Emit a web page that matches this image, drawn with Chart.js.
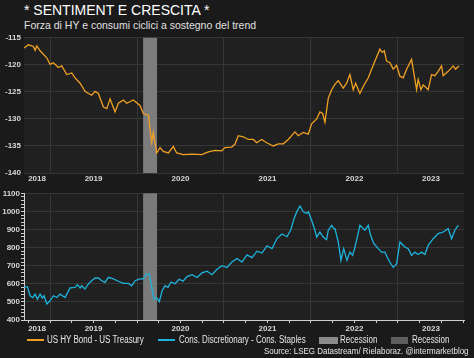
<!DOCTYPE html>
<html>
<head>
<meta charset="utf-8">
<script src="https://cdn.jsdelivr.net/npm/chart.js@4.4.1/dist/chart.umd.min.js"></script>
<style>
  html, body { margin: 0; padding: 0; background: #1a1a1a; }
  body { width: 474px; height: 358px; position: relative; overflow: hidden; font-family: "Liberation Sans", Arial, sans-serif; color: #e6e6e6; }
  .title { position: absolute; left: 24px; top: 2px; font-size: 14px; color: #fff; line-height: 16px; }
  .subtitle { position: absolute; left: 24px; top: 19px; font-size: 10.5px; color: #e0e0e0; }
  canvas { position: absolute; left: 0; }
  #topChart { top: 30px; }
  #bottomChart { top: 185px; }
  .legend { position: absolute; top: 334px; font-size: 10px; color: #e6e6e6; white-space: nowrap; transform: scaleX(0.8); transform-origin: left center; }
  .swatch { position: absolute; }
  .source { position: absolute; right: 5px; top: 345px; font-size: 9.5px; color: #e6e6e6; white-space: nowrap; transform: scaleX(0.84); transform-origin: right center; }
</style>
</head>
<body>
<div class="title">* SENTIMENT E CRESCITA *</div>
<div class="subtitle">Forza di HY e consumi ciclici a sostegno del trend</div>
<canvas id="topChart" width="474" height="155"></canvas>
<canvas id="bottomChart" width="474" height="150"></canvas>

<div class="swatch" style="left:27px; top:339px; width:17px; height:2px; background:#f0a022;"></div>
<div class="legend" style="left:47px;">US HY Bond - US Treasury</div>
<div class="swatch" style="left:158px; top:339px; width:17px; height:2px; background:#1db3dc;"></div>
<div class="legend" style="left:179px;">Cons. Discretionary - Cons. Staples</div>
<div class="swatch" style="left:319px; top:337px; width:19px; height:7px; background:#8a8a8a;"></div>
<div class="legend" style="left:340px;">Recession</div>
<div class="swatch" style="left:391px; top:337px; width:17px; height:7px; background:#5e5e5e;"></div>
<div class="legend" style="left:412px;">Recession</div>
<div class="source">Source: LSEG Datastream/ Rielaboraz. @intermarketblog</div>

<script>
// x values are decimal years
const xMin = 2018.70;
const xMax = 2023.76;
const recession = [2020.07, 2020.23];

const yearTicks = [2019, 2020, 2021, 2022, 2023];
const quarterTicks = [2018.75, 2019, 2019.25, 2019.5, 2019.75, 2020, 2020.25, 2020.5, 2020.75,
  2021, 2021.25, 2021.5, 2021.75, 2022, 2022.25, 2022.5, 2022.75, 2023, 2023.25, 2023.5, 2023.75];
const yearLabels = ['2018', '2019', '2020', '2021', '2022', '2023'];
const yearLabelPos = [(xMin + 2019) / 2, 2019.5, 2020.5, 2021.5, 2022.5, (2023 + xMax) / 2];

// US HY Bond - US Treasury
const hyDates = [2018.701, 2018.751, 2018.808, 2018.828, 2018.847, 2018.885, 2018.962, 2019.000, 2019.038, 2019.095,
  2019.134, 2019.192, 2019.249, 2019.287, 2019.345, 2019.402, 2019.440, 2019.479, 2019.517, 2019.555,
  2019.613, 2019.652, 2019.690, 2019.747, 2019.785, 2019.843, 2019.882, 2019.957, 2020.034, 2020.072,
  2020.130, 2020.169, 2020.187, 2020.226, 2020.264, 2020.302, 2020.360, 2020.417, 2020.456, 2020.532,
  2020.629, 2020.744, 2020.820, 2020.897, 2020.974, 2021.011, 2021.089, 2021.126, 2021.164, 2021.222,
  2021.279, 2021.337, 2021.376, 2021.433, 2021.491, 2021.567, 2021.624, 2021.682, 2021.739, 2021.816,
  2021.854, 2021.911, 2021.969, 2022.008, 2022.066, 2022.103, 2022.134, 2022.161, 2022.199, 2022.238,
  2022.276, 2022.314, 2022.333, 2022.371, 2022.410, 2022.448, 2022.486, 2022.514, 2022.563, 2022.601,
  2022.659, 2022.698, 2022.736, 2022.793, 2022.820, 2022.843, 2022.870, 2022.908, 2022.946, 2022.985,
  2023.023, 2023.061, 2023.100, 2023.157, 2023.195, 2023.215, 2023.233, 2023.264, 2023.291, 2023.348,
  2023.387, 2023.425, 2023.463, 2023.502, 2023.520, 2023.578, 2023.636, 2023.663, 2023.701];
const hySpread = [-116.9, -116.3, -116.6, -117.3, -116.5, -117.4, -118.7, -119.9, -119.6, -120.5,
  -120.2, -121.8, -121.5, -122.4, -123.4, -124.9, -125.3, -125.6, -124.9, -125.3,
  -127.8, -128.1, -126.3, -128.7, -127.1, -126.5, -127.1, -126.5, -127.5, -129.0,
  -129.3, -134.4, -132.5, -136.3, -135.3, -136.0, -136.3, -135.1, -136.3, -136.6,
  -136.5, -136.6, -136.1, -135.8, -135.9, -135.3, -135.2, -134.7, -133.1, -133.3,
  -133.8, -133.8, -134.4, -133.8, -134.4, -135.0, -134.6, -134.6, -133.8, -132.4,
  -133.1, -132.5, -132.8, -130.9, -130.0, -128.7, -129.0, -130.6, -126.2, -124.6,
  -123.6, -122.9, -123.4, -124.3, -123.4, -121.8, -124.6, -123.4, -125.3, -124.0,
  -122.4, -120.8, -119.3, -117.1, -117.7, -117.4, -119.3, -119.6, -120.8, -120.1,
  -122.1, -122.4, -120.8, -119.0, -122.7, -124.6, -122.7, -124.6, -123.7, -124.6,
  -121.8, -122.0, -121.2, -120.2, -122.0, -121.2, -120.2, -120.8, -120.2];

// Cons. Discretionary - Cons. Staples
const discDates = [2018.701, 2018.739, 2018.770, 2018.801, 2018.828, 2018.854, 2018.885, 2018.911, 2018.931, 2018.962,
  2019.000, 2019.038, 2019.077, 2019.115, 2019.172, 2019.230, 2019.287, 2019.314, 2019.345, 2019.364,
  2019.402, 2019.440, 2019.479, 2019.517, 2019.555, 2019.594, 2019.632, 2019.670, 2019.728, 2019.785,
  2019.843, 2019.900, 2019.939, 2019.977, 2020.034, 2020.072, 2020.111, 2020.141, 2020.169, 2020.195,
  2020.226, 2020.256, 2020.287, 2020.322, 2020.356, 2020.391, 2020.437, 2020.483, 2020.529, 2020.575,
  2020.632, 2020.690, 2020.747, 2020.805, 2020.862, 2020.920, 2020.977, 2021.034, 2021.092, 2021.149,
  2021.207, 2021.264, 2021.322, 2021.379, 2021.437, 2021.494, 2021.552, 2021.609, 2021.667, 2021.724,
  2021.770, 2021.805, 2021.839, 2021.874, 2021.912, 2021.951, 2021.970, 2022.008, 2022.046, 2022.066,
  2022.103, 2022.141, 2022.180, 2022.199, 2022.238, 2022.264, 2022.276, 2022.314, 2022.345, 2022.376,
  2022.414, 2022.448, 2022.479, 2022.506, 2022.533, 2022.563, 2022.621, 2022.659, 2022.686, 2022.724,
  2022.774, 2022.812, 2022.851, 2022.878, 2022.908, 2022.946, 2022.985, 2023.023, 2023.080, 2023.119,
  2023.157, 2023.195, 2023.233, 2023.272, 2023.310, 2023.348, 2023.406, 2023.464, 2023.521, 2023.578,
  2023.617, 2023.655, 2023.693];
const discStaples = [580, 584, 534, 524, 543, 515, 543, 521, 534, 488,
  506, 534, 524, 543, 524, 577, 580, 595, 577, 589,
  571, 599, 617, 632, 632, 617, 608, 636, 627, 614,
  602, 602, 589, 617, 627, 627, 655, 655, 580, 515,
  524, 502, 560, 590, 580, 610, 600, 625, 615, 640,
  650, 635, 660, 670, 650, 680, 700, 690, 720, 740,
  720, 760, 745, 780, 770, 810, 795, 850, 875, 860,
  900, 960, 1000, 1030, 998, 989, 998, 951, 896, 858,
  886, 858, 844, 896, 923, 905, 905, 831, 729, 794,
  729, 775, 757, 803, 858, 923, 896, 923, 868, 822,
  794, 775, 775, 747, 719, 691, 710, 831, 803, 794,
  757, 775, 762, 775, 762, 812, 849, 877, 886, 905,
  849, 896, 923];

const gridColor = '#363636';
const tickFont = { family: '"Liberation Sans", Arial, sans-serif', size: 8, weight: 'bold' };
const tickColor = '#d8d8d8';

const panelPlugin = {
  id: 'panel',
  beforeDraw(chart) {
    const { ctx, chartArea } = chart;
    ctx.save();
    ctx.fillStyle = '#202020';
    ctx.fillRect(chartArea.left, chartArea.top, chartArea.width, chartArea.height);
    ctx.restore();
  },
  beforeDatasetsDraw(chart, args, opts) {
    const { ctx, chartArea, scales } = chart;
    const x0 = scales.x.getPixelForValue(recession[0]);
    const x1 = scales.x.getPixelForValue(recession[1]);
    ctx.save();
    ctx.fillStyle = opts.color;
    ctx.fillRect(x0, chartArea.top, x1 - x0, chartArea.height);
    ctx.restore();
  }
};

function xScales(withTicks) {
  return {
    x: {
      type: 'linear', min: xMin, max: xMax, weight: 0,
      afterBuildTicks: axis => {
        axis.ticks = (withTicks ? quarterTicks : yearTicks).map(v => ({ value: v }));
      },
      afterFit: axis => { axis.height = withTicks ? 3 : 0; },
      ticks: { display: false, autoSkip: false },
      grid: {
        color: c => (c.tick && yearTicks.includes(c.tick.value)) ? gridColor : 'transparent',
        drawTicks: withTicks, tickLength: 3, tickColor: '#cfcfcf'
      },
      border: withTicks ? { display: true, color: '#cfcfcf' } : { display: false }
    },
    xl: {
      type: 'linear', position: 'bottom', min: xMin, max: xMax, weight: 1,
      afterBuildTicks: axis => { axis.ticks = yearLabelPos.map(v => ({ value: v })); },
      afterFit: axis => { axis.height = 12; },
      ticks: {
        autoSkip: false, maxRotation: 0, padding: 1,
        color: tickColor, font: tickFont,
        callback: (v, i) => yearLabels[i]
      },
      grid: { display: false, drawTicks: false },
      border: { display: false }
    }
  };
}

new Chart(document.getElementById('topChart'), {
  type: 'line',
  data: {
    datasets: [{
      label: 'US HY Bond - US Treasury',
      data: hyDates.map((x, i) => ({ x, y: hySpread[i] })),
      borderColor: '#f0a022',
      borderWidth: 1.3,
      pointRadius: 0,
      tension: 0
    }]
  },
  options: {
    responsive: false,
    animation: false,
    devicePixelRatio: 1,
    layout: { padding: { top: 7.5, right: 10, left: 0, bottom: 0 } },
    plugins: { legend: { display: false }, tooltip: { enabled: false }, panel: { color: '#7c7c7c' } },
    scales: Object.assign(xScales(false), {
      y: {
        min: -140, max: -115,
        afterFit: axis => { axis.width = 24; },
        ticks: { stepSize: 5, color: tickColor, font: tickFont, padding: 3 },
        grid: { color: gridColor, drawTicks: false },
        border: { display: false }
      }
    })
  },
  plugins: [panelPlugin]
});

new Chart(document.getElementById('bottomChart'), {
  type: 'line',
  data: {
    datasets: [{
      label: 'Cons. Discretionary - Cons. Staples',
      data: discDates.map((x, i) => ({ x, y: discStaples[i] })),
      borderColor: '#1db3dc',
      borderWidth: 1.3,
      pointRadius: 0,
      tension: 0
    }]
  },
  options: {
    responsive: false,
    animation: false,
    devicePixelRatio: 1,
    layout: { padding: { top: 8.3, right: 10, left: 0, bottom: 0 } },
    plugins: { legend: { display: false }, tooltip: { enabled: false }, panel: { color: '#7a7a7a' } },
    scales: Object.assign(xScales(true), {
      y: {
        min: 400, max: 1100,
        afterFit: axis => { axis.width = 24; },
        ticks: {
          stepSize: 20, autoSkip: false, color: tickColor, font: tickFont, padding: 1,
          callback: v => (v % 100 === 0 ? v : '')
        },
        grid: {
          color: c => (c.tick && c.tick.value % 100 === 0) ? gridColor : 'transparent',
          tickLength: 3, tickColor: '#cfcfcf'
        },
        border: { display: true, color: '#cfcfcf' }
      }
    })
  },
  plugins: [panelPlugin]
});
</script>
</body>
</html>
